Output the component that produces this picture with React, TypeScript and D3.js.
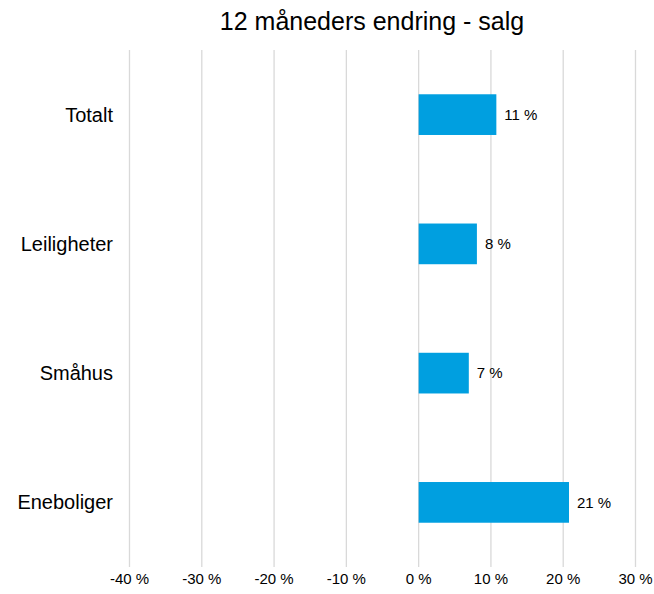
import React from "react";
import * as d3 from "d3";

const categories = ["Totalt", "Leiligheter", "Småhus", "Eneboliger"];
const values = [0.1075, 0.0806, 0.0694, 0.208];
const valueLabels = ["11 %", "8 %", "7 %", "21 %"];
const ticks = [-0.4, -0.3, -0.2, -0.1, 0, 0.1, 0.2, 0.3];
const tickLabels = ["-40 %", "-30 %", "-20 %", "-10 %", "0 %", "10 %", "20 %", "30 %"];
const title = "12 måneders endring - salg";

const W = 654;
const H = 594;
const font = "'Liberation Sans', Arial, sans-serif";

export default function App() {
  const x = d3.scaleLinear().domain([-0.4, 0.3]).range([129.5, 635.5]);
  const y = d3
    .scaleBand<string>()
    .domain(categories)
    .range([50, 567])
    .paddingInner(0.685)
    .paddingOuter(0.3425);

  return (
    <svg
      width={W}
      height={H}
      style={{ position: "absolute", left: 0, top: 0, background: "#fff" }}
      fontFamily={font}
    >
      <text x={372} y={30} textAnchor="middle" fontSize={25} fill="#000">
        {title}
      </text>
      {ticks.map((t, i) => (
        <g key={i}>
          <line
            x1={x(t)}
            x2={x(t)}
            y1={50}
            y2={567}
            stroke="#d9d9d9"
            strokeWidth={1.3}
          />
          <text x={x(t)} y={584} textAnchor="middle" fontSize={15} fill="#000">
            {tickLabels[i]}
          </text>
        </g>
      ))}
      {categories.map((c, i) => {
        const v = values[i];
        const y0 = y(c)!;
        const bw = y.bandwidth();
        return (
          <g key={c}>
            <rect
              x={x(Math.min(0, v))}
              y={y0}
              width={Math.abs(x(v) - x(0))}
              height={bw}
              fill="#009FE0"
            />
            <text
              x={x(v) + 8}
              y={y0 + bw / 2}
              dy="0.35em"
              fontSize={15}
              fill="#000"
            >
              {valueLabels[i]}
            </text>
            <text
              x={113}
              y={y0 + bw / 2}
              dy="0.35em"
              textAnchor="end"
              fontSize={20}
              fill="#000"
            >
              {c}
            </text>
          </g>
        );
      })}
    </svg>
  );
}
